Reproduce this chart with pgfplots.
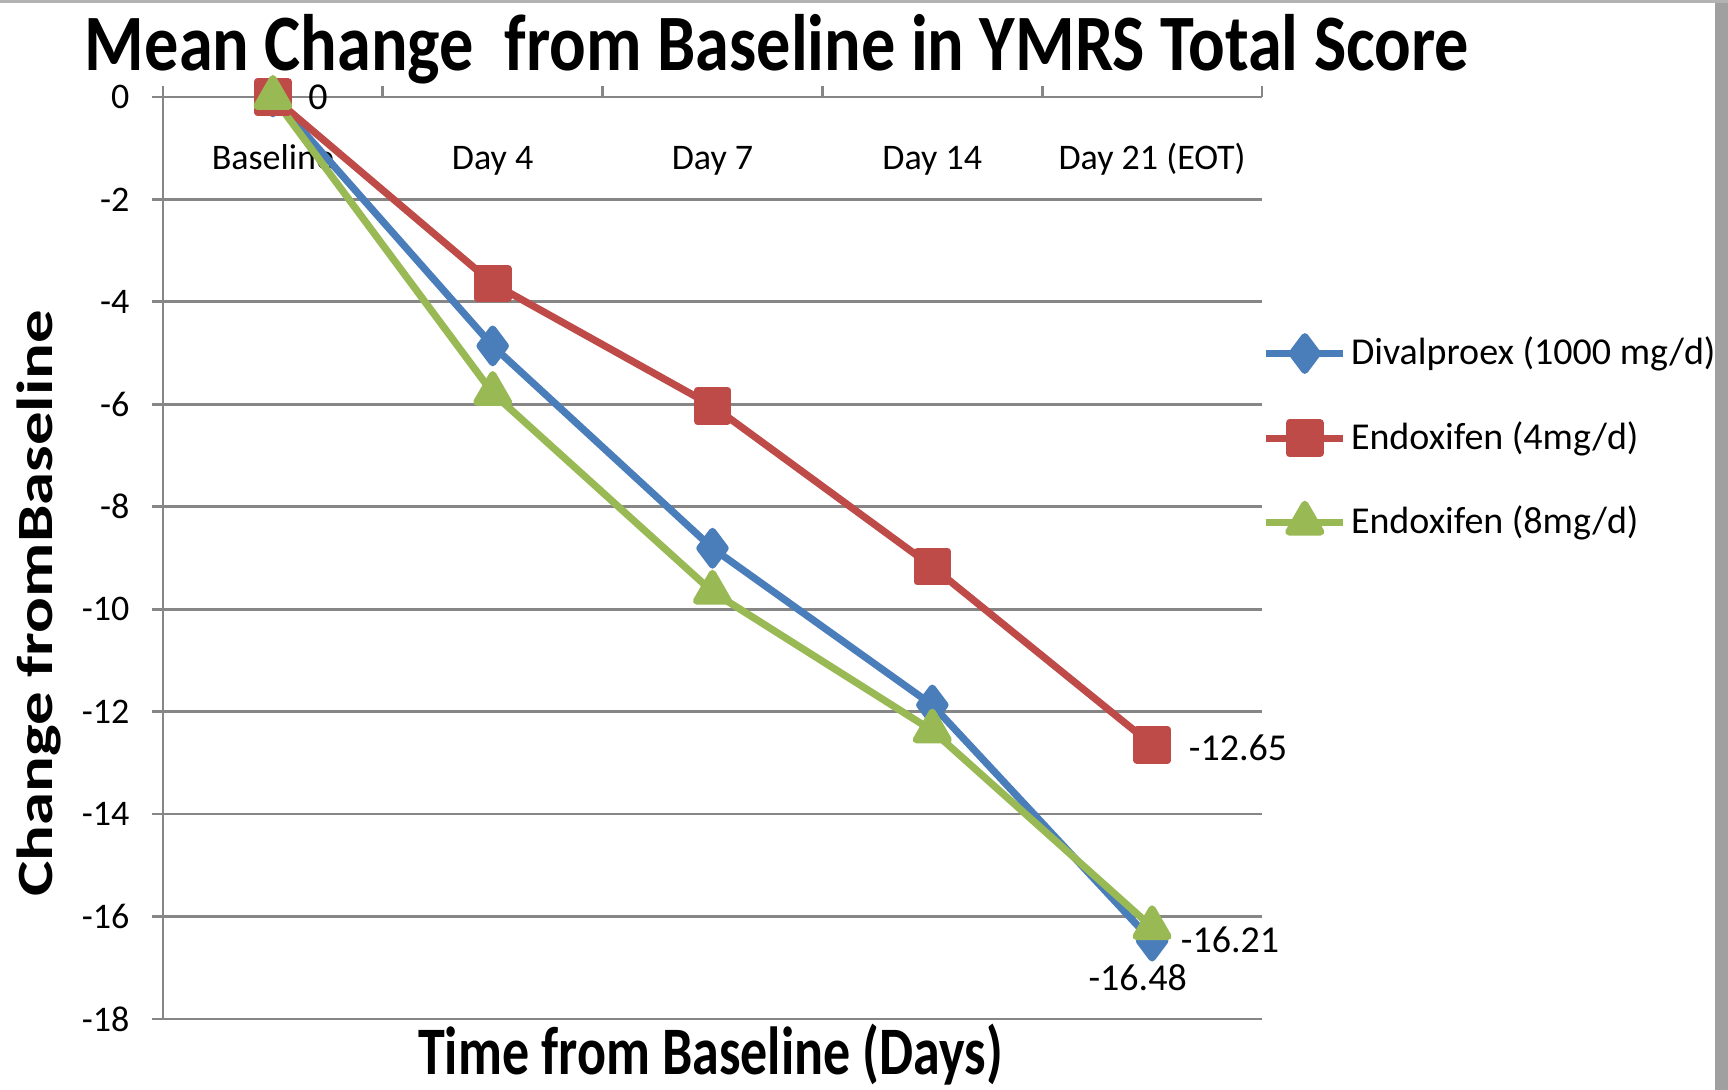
\documentclass[border=0pt]{standalone}
\usepackage{pgfplots}
\pgfplotsset{compat=1.18}
\usepackage{fontspec}
\setmainfont{Carlito}
\definecolor{blueS}{HTML}{4A7EBB}
\definecolor{redS}{HTML}{BE4B48}
\definecolor{greenS}{HTML}{98B954}
\definecolor{gridc}{RGB}{134,134,134}
\definecolor{edgec}{RGB}{160,160,160}
\newcommand{\tf}{\fontsize{9}{11}\selectfont}
\begin{document}
\begin{tikzpicture}
\path[use as bounding box] (-40.75pt,-17.75pt) rectangle (391.25pt,254.75pt);
\fill[white] (-40.75pt,-17.75pt) rectangle (391.25pt,254.75pt);
\fill[edgec] (388pt,-17.75pt) rectangle (391.25pt,254.75pt);
\fill[edgec!80] (-40.75pt,254pt) rectangle (391.25pt,254.75pt);
\begin{axis}[
  scale only axis,
  width=274.75pt, height=230.5pt,
  xmin=-0.5, xmax=4.5, ymin=-18, ymax=0,
  axis x line*=top, axis y line*=left,
  xtick={-0.5,0.5,1.5,2.5,3.5,4.5}, xticklabels={},
  ytick={-18,-16,-14,-12,-10,-8,-6,-4,-2,0},
  yticklabels={-18,-16,-14,-12,-10,-8,-6,-4,-2,0},
  tick align=outside, major tick length=2.7pt,
  ymajorgrids,
  grid style={gridc, line width=0.7pt},
  axis line style={gridc, line width=0.7pt},
  tick style={gridc, line width=0.7pt},
  yticklabel style={font=\tf, text=black, inner sep=0pt, xshift=-5.5pt},
  clip=false,
  legend style={at={(rel axis cs:1,0.630)}, anchor=west, draw=none, fill=none,
    inner sep=0pt, row sep=10.7pt, font=\fontsize{9.5}{11}\selectfont,
    nodes={inner sep=1pt}},
  legend cell align=left,
  legend image code/.code={\draw[mark repeat=2,mark phase=2,#1] plot coordinates {(0pt,0pt) (9.6pt,0pt) (19.25pt,0pt)};},
]
% category labels
\node[font=\tf, anchor=base, yshift=-18.25pt] at (axis cs:0,0) {Baseline};
\node[font=\tf, anchor=base, yshift=-18.25pt] at (axis cs:1,0) {Day 4};
\node[font=\tf, anchor=base, yshift=-18.25pt] at (axis cs:2,0) {Day 7};
\node[font=\tf, anchor=base, yshift=-18.25pt] at (axis cs:3,0) {Day 14};
\node[font=\tf, anchor=base, yshift=-18.25pt] at (axis cs:4,0) {Day 21 (EOT)};

\addplot[blueS, line width=1.8pt, line join=round, mark=diamond*, mark size=4.2pt, mark options={solid}]
  coordinates {(0,0) (1,-4.86) (2,-8.81) (3,-11.87) (4,-16.48)};
\addlegendentry{Divalproex (1000 mg/d)}
\addplot[redS, line width=1.8pt, line join=round, mark=square*, mark size=3.8pt, mark options={solid}]
  coordinates {(0,0) (1,-3.64) (2,-6.03) (3,-9.17) (4,-12.65)};
\addlegendentry{Endoxifen (4mg/d)}
\addplot[greenS, line width=1.8pt, line join=round, mark=triangle*, mark size=4.6pt, mark options={solid}]
  coordinates {(0,0) (1,-5.78) (2,-9.66) (3,-12.37) (4,-16.21)};
\addlegendentry{Endoxifen (8mg/d)}

% data labels
\node[font=\fontsize{9.5}{11}\selectfont, inner sep=0pt, xshift=11.25pt] at (axis cs:0,0) {0};
\node[font=\fontsize{9.5}{11}\selectfont, inner sep=0pt, anchor=west, xshift=9pt, yshift=-0.75pt] at (axis cs:4,-12.65) {-12.65};
\node[font=\fontsize{9.5}{11}\selectfont, inner sep=0pt, anchor=west, xshift=7pt, yshift=-3.25pt] at (axis cs:4,-16.21) {-16.21};
\node[font=\fontsize{9.5}{11}\selectfont, inner sep=0pt, xshift=-3.6pt, yshift=-9.25pt] at (axis cs:4,-16.48) {-16.48};
\end{axis}
% title and axis labels
\node[anchor=base, inner sep=0pt] at (153.5pt,237pt)
  {\resizebox{346pt}{\height}{\fontsize{20}{24}\selectfont\bfseries Mean Change\ \ from Baseline in YMRS Total Score}};
\node[anchor=base, inner sep=0pt] at (136.9pt,-14pt)
  {\resizebox{146.25pt}{\height}{\fontsize{17}{20}\selectfont\bfseries Time from Baseline (Days)}};
\node[anchor=base, inner sep=0pt, rotate=90] at (-27.5pt,103.9pt)
  {\resizebox{146.75pt}{\height}{\fontsize{12.7}{15}\selectfont\bfseries Change fromBaseline}};
\end{tikzpicture}
\end{document}
